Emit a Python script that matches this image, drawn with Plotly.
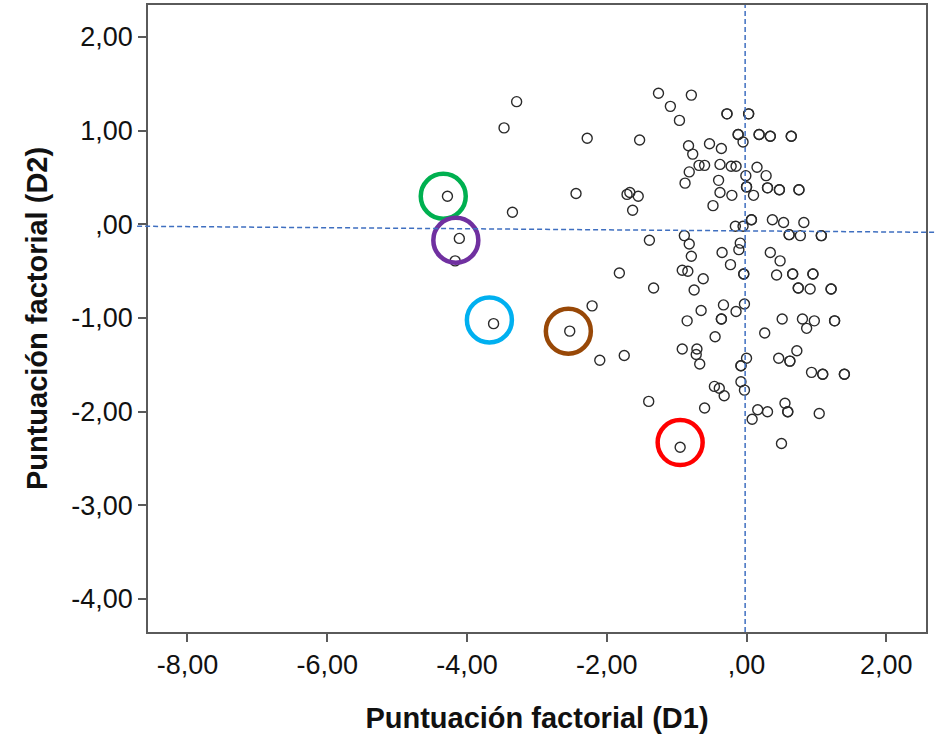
import plotly.graph_objects as go

# Factor scores (D1, D2); repeated pairs are coincident cases
d1 = [
    -3.29, -3.47, -2.28, -4.28, -3.35, -2.44, -4.11, -4.17, -3.62, -2.53, -2.21, -2.10, -1.75, -1.40,
    -1.26, -0.79, -1.09, -0.96, -0.28, -0.28, 0.03, 0.03, -1.53, -0.12, -0.12, -0.05, 0.18, 0.18,
    0.34, 0.34, 0.64, 0.64, -0.83, -0.77, -0.53, -0.36, -0.68, -0.60, -0.38, -0.22, -0.15, 0.15,
    -0.82, -0.88, -0.40, -0.01, 0.28, 0.00, 0.00, -0.38, -0.21, 0.10, 0.30, 0.30, 0.47, 0.47,
    0.75, 0.75, -1.71, -1.67, -1.55, -1.63, -0.48, 0.07, 0.07, 0.37, 0.53, 0.82, -0.16, -0.05,
    0.61, 0.61, 0.77, 1.07, 1.07,
    -1.39, -0.89, -0.82, -0.79, -0.09, -0.11, -0.35, 0.34, 0.48, -0.23, -1.82, -0.92, -0.84,
    -0.04, -0.04, 0.43, 0.66, 0.66, 0.95, 0.95, -0.62, -1.33, -0.75, 0.74, 0.74, 0.91, 1.21, 1.21,
    -0.33, -0.03, -0.15, -0.65, -0.36, -0.36, -0.85, 0.51, 0.80, 0.97, 0.86, 1.26, 1.26, 0.26,
    -0.45, -0.92, -0.71, -0.72, -0.67, 0.00, -0.08, -0.08, 0.72, 0.46, 0.62, 0.62, 0.93, 1.09,
    1.09, 1.40, 1.40, -0.46, -0.39, -0.32, -0.08, -0.03, -0.60, 0.16, 0.30, 0.08, 0.55, 0.59,
    0.59, 1.04, 0.50, -0.95,
]
d2 = [
    1.31, 1.03, 0.92, 0.30, 0.13, 0.33, -0.15, -0.39, -1.06, -1.14, -0.87, -1.45, -1.40, -1.89,
    1.40, 1.38, 1.26, 1.11, 1.18, 1.18, 1.18, 1.18, 0.90, 0.96, 0.96, 0.88, 0.96, 0.96,
    0.94, 0.94, 0.94, 0.94, 0.84, 0.75, 0.86, 0.81, 0.63, 0.63, 0.64, 0.62, 0.62, 0.61,
    0.56, 0.44, 0.47, 0.52, 0.52, 0.40, 0.40, 0.34, 0.31, 0.31, 0.39, 0.39, 0.37, 0.37,
    0.37, 0.37, 0.32, 0.34, 0.30, 0.15, 0.20, 0.05, 0.05, 0.05, 0.02, 0.02, -0.02, -0.02,
    -0.11, -0.11, -0.12, -0.12, -0.12,
    -0.17, -0.12, -0.21, -0.34, -0.20, -0.27, -0.30, -0.30, -0.39, -0.43, -0.52, -0.49, -0.50,
    -0.53, -0.53, -0.54, -0.53, -0.53, -0.53, -0.53, -0.58, -0.68, -0.70, -0.68, -0.68, -0.69, -0.69, -0.69,
    -0.86, -0.85, -0.93, -0.92, -1.01, -1.01, -1.03, -1.01, -1.01, -1.03, -1.11, -1.03, -1.03, -1.16,
    -1.20, -1.33, -1.33, -1.39, -1.49, -1.43, -1.51, -1.51, -1.35, -1.43, -1.46, -1.46, -1.58, -1.60,
    -1.60, -1.60, -1.60, -1.73, -1.75, -1.83, -1.68, -1.77, -1.96, -1.98, -2.00, -2.08, -1.91, -2.00,
    -2.00, -2.02, -2.34, -2.38,
]

# Highlighted cases (circle centres) and their colours
hl_d1 = [-4.34, -4.16, -3.68, -2.55, -0.95]
hl_d2 = [0.30, -0.17, -1.02, -1.14, -2.33]
hl_colors = ["#00B050", "#7030A0", "#00B0F0", "#984807", "#FF0000"]

x_ticks = [-8, -6, -4, -2, 0, 2]
x_labels = ["-8,00", "-6,00", "-4,00", "-2,00", ",00", "2,00"]
y_ticks = [2, 1, 0, -1, -2, -3, -4]
y_labels = ["2,00", "1,00", ",00", "-1,00", "-2,00", "-3,00", "-4,00"]

x_title = "Puntuación factorial (D1)"
y_title = "Puntuación factorial (D2)"

# reference lines (as drawn in the original, slightly tilted horizontal)
vline_x = -0.02
hline_y_left = -0.02
hline_y_right = -0.085

fig = go.Figure()
fig.add_trace(go.Scatter(
    x=d1, y=d2, mode="markers",
    marker=dict(symbol="circle-open", size=10, color="#2a2a2a", line=dict(width=1.4)),
    hoverinfo="x+y", showlegend=False,
))
fig.add_trace(go.Scatter(
    x=hl_d1, y=hl_d2, mode="markers",
    marker=dict(symbol="circle-open", size=45, color=hl_colors, line=dict(width=4.5)),
    hoverinfo="skip", showlegend=False,
))

line_style = dict(color="#3F6FC0", width=1.5, dash="5px,3px")
fig.add_shape(type="line", xref="x", yref="paper", x0=vline_x, x1=vline_x, y0=0, y1=1,
              line=line_style, layer="above")
fig.add_shape(type="line", xref="paper", yref="y", x0=-0.014, x1=1.012,
              y0=hline_y_left, y1=hline_y_right, line=line_style, layer="above")

font_family = "Liberation Sans, Arial"
axis_common = dict(
    showgrid=False, zeroline=False, showline=True, mirror=True, automargin=False,
    linecolor="#5a5a5a", linewidth=1.5, ticks="outside", ticklen=8, tickwidth=1.5,
    tickcolor="#5a5a5a", tickfont=dict(family=font_family, size=27, color="#111111"),
)

fig.update_layout(
    width=936, height=741,
    margin=dict(l=148, r=10, t=5, b=109),
    paper_bgcolor="white", plot_bgcolor="white",
    xaxis=dict(range=[-8.565, 2.568], tickvals=x_ticks, ticktext=x_labels,
               title=dict(text="<b>" + x_title + "</b>", standoff=29,
                          font=dict(family=font_family, size=29, color="#111111")),
               **axis_common),
    yaxis=dict(range=[-4.352, 2.342], tickvals=y_ticks, ticktext=y_labels,
               title=dict(text="<b>" + y_title + "</b>", standoff=15,
                          font=dict(family=font_family, size=29, color="#111111")),
               **axis_common),
    showlegend=False,
)

fig.write_html(
    "out.html",
    config={"displayModeBar": False},
    post_script="document.body.style.margin='0';document.body.style.overflow='hidden';",
)
